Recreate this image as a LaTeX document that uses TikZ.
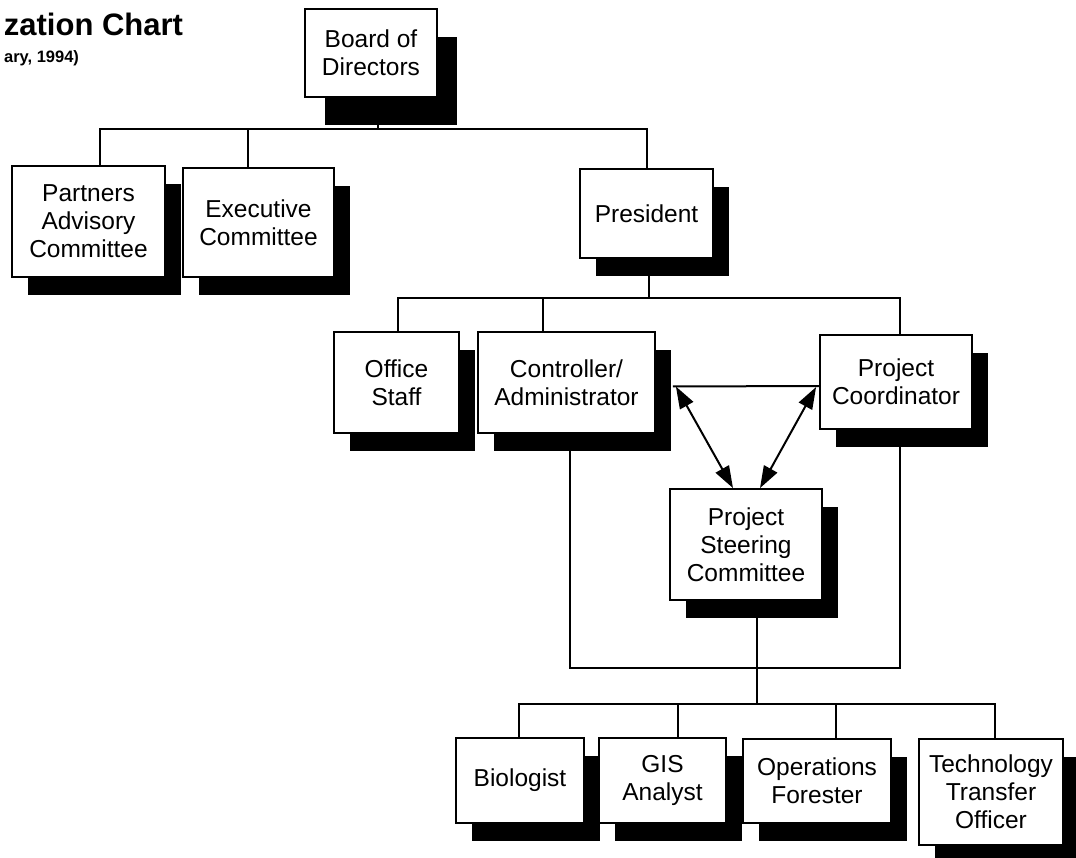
\documentclass[tikz,border=0pt]{standalone}
\usepackage{fontspec}
\setmainfont{Liberation Sans}
\usetikzlibrary{arrows.meta,shadows}

\begin{document}
\begin{tikzpicture}[x=1pt,y=-1pt,line width=2pt,
  frame/.style={draw,line width=1.8pt,fill=white,align=center,inner sep=1pt,font=\fontsize{24.5}{28}\selectfont},
  unit/.style={frame,drop shadow={shadow xshift=16pt,shadow yshift=-18pt,fill=black,opacity=1}},
  topunit/.style={frame,drop shadow={shadow xshift=20pt,shadow yshift=-28pt,fill=black,opacity=1}},
  link/.style={{Triangle[length=22pt,width=15pt]}-{Triangle[length=22pt,width=15pt]}}]
\path[use as bounding box] (0,0) rectangle (1076,858);
\node[anchor=base east,inner sep=0pt,font=\bfseries\fontsize{31}{36}\selectfont] (title) at (184,36) {zation Chart};
\node[anchor=base east,inner sep=0pt,font=\bfseries\fontsize{16.5}{20}\selectfont] (date) at (80,63) {ary, 1994)};
% boxes
\node[topunit,minimum width=132pt,minimum height=88pt] (board) at (371,53) {Board of\\Directors};
\node[unit,minimum width=153pt,minimum height=111pt] (partners) at (88.5,221.5) {Partners\\Advisory\\Committee};
\node[unit,minimum width=151pt,minimum height=109pt] (exec) at (258.5,222.5) {Executive\\Committee};
\node[unit,minimum width=133pt,minimum height=89pt] (pres) at (646.5,213.5) {President};
\node[unit,minimum width=125pt,minimum height=101pt] (office) at (396.5,382.5) {Office\\Staff};
\node[unit,minimum width=177pt,minimum height=101pt] (ctrl) at (566.5,382.5) {Controller/\\Administrator};
\node[unit,minimum width=152pt,minimum height=94pt] (coord) at (896,382) {Project\\Coordinator};
\node[unit,minimum width=152pt,minimum height=111pt] (steer) at (746,544.5) {Project\\Steering\\Committee};
\node[unit,minimum width=128pt,minimum height=85pt] (bio) at (520,780.5) {Biologist};
\node[unit,minimum width=127pt,minimum height=85pt] (gis) at (662.5,780.5) {GIS\\Analyst};
\node[unit,minimum width=148pt,minimum height=84pt] (ops) at (817,781) {Operations\\Forester};
\node[unit,minimum width=144pt,minimum height=106pt] (tech) at (991,792) {Technology\\Transfer\\Officer};
% tree lines
\draw ([xshift=7pt]board.south) -- ++(0,31) coordinate (topbus);
\foreach \n/\d in {partners/11.5,exec/-10.5,pres/0.5}
  \draw (topbus) -| ([xshift=\d pt]\n.north);
\draw ([xshift=2.5pt]pres.south) -- ++(0,39) coordinate (midbus);
\foreach \n/\d in {office/1.5,ctrl/-23.5,coord/4}
  \draw (midbus) -| ([xshift=\d pt]\n.north);
% steering links
\draw ([shift={(17,4)}]ctrl.east) -- ([shift={(0,4)}]coord.west);
\draw[link] ([shift={(20,4)}]ctrl.east) -- ([xshift=-13pt]steer.north);
\draw[link] ([shift={(-3,5)}]coord.west) -- ([xshift=14pt]steer.north);
\draw ([xshift=3.5pt]ctrl.south) -- ++(0,234.5) -| ([xshift=4pt]coord.south);
\draw ([xshift=11pt]steer.south) -- ++(0,103) coordinate (lowbus);
\foreach \n/\d in {bio/-1,gis/15.5,ops/19,tech/4}
  \draw (lowbus) -| ([xshift=\d pt]\n.north);
\end{tikzpicture}
\end{document}
